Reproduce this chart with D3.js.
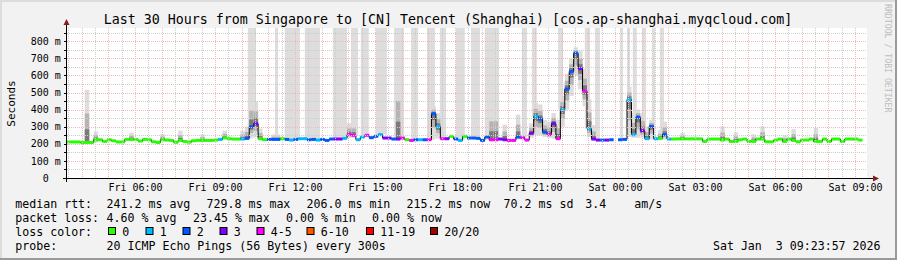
<!DOCTYPE html>
<html>
<head>
<meta charset="utf-8">
<script src="https://cdn.jsdelivr.net/npm/d3@7"></script>
<style>
body { margin: 0; background: #f2f2f2; }
svg text { font-family: "DejaVu Sans Mono", monospace; white-space: pre; }
</style>
</head>
<body>
<svg id="chart" width="897" height="260"></svg>
<script>
// smokeping chart, 30 hours, one value per 10 minute slot

var startTime = "2026-01-02T03:27:00";
var endTime = "2026-01-03T09:27:00";
var stepMinutes = 10;

// median rtt in ms for each slot (null = no data)
var median = [
  211,211,211,208,208,208,224,224,214,224,
  218,211,211,226,226,226,216,226,224,212,
  208,224,222,220,209,220,214,210,218,220,
  220,220,220,222,226,236,230,228,228,228,
  232,300,318,230,224,226,226,226,230,226,
  222,226,230,230,224,226,222,226,220,228,
  228,228,232,254,250,224,240,250,236,244,
  254,234,234,228,228,234,224,220,224,224,
  224,224,376,300,230,230,244,228,220,244,
  234,234,232,220,240,224,224,228,224,220,
  220,240,236,222,262,360,345,268,254,318,
  230,400,520,624,730,640,510,290,228,222,
  222,222,224,null,224,226,459,254,355,276,
  230,302,230,232,254,228,228,229,229,229,
  229,229,229,214,228,228,228,222,228,214,
  214,224,228,214,214,228,228,212,212,222,
  228,214,228,220,212,222,222,228,214,214,
  228,214,228,228,214,228,228,228,222,null
];

// lost pings (of 20) for each slot
var loss = [
  0,0,0,0,0,0,0,0,0,0,
  0,0,0,0,0,0,0,0,0,0,
  0,0,0,0,0,0,0,0,0,0,
  0,0,0,0,1,0,0,0,0,1,
  2,2,3,0,0,2,2,2,0,2,
  1,2,1,1,2,2,1,2,2,2,
  3,3,1,4,4,1,1,4,2,2,
  1,3,3,2,3,4,0,4,2,1,
  2,4,2,1,4,3,0,2,1,0,
  2,2,2,2,2,4,4,3,3,4,
  4,2,4,4,3,1,2,2,4,3,
  4,1,2,2,2,3,4,1,3,3,
  2,3,2,null,2,2,1,1,2,3,
  1,2,1,0,2,1,0,0,0,0,
  0,0,0,0,0,0,0,0,0,0,
  0,0,0,0,0,0,0,0,0,0,
  0,0,0,0,0,0,0,0,0,0,
  0,0,0,0,0,0,0,0,0,null
];

// smoke: slots where the ping spread is visible, with lowest and highest rtt
var smokeSlot = [4,6,14,21,25,30,35,39,40,41,42,43,46,47,63,64,74,82,83,95,96,98,101,
  104,105,106,107,108,109,110,111,112,113,114,115,116,117,118,
  126,127,128,129,130,131,133,134,138,147,150,154,156,161,163,168];
var smokeLow = [205,208,215,215,215,215,225,222,225,232,240,225,220,220,235,235,222,230,230,218,218,215,225,
  235,250,250,240,235,230,222,300,400,480,600,520,420,240,220,
  240,235,235,235,225,225,225,225,222,220,210,210,222,210,215,212];
var smokeHigh = [516,273,265,258,277,255,277,277,300,470,449,290,255,255,320,323,634,420,380,420,420,312,371,
  320,440,430,340,330,380,340,480,610,700,765,745,640,460,310,
  536,380,400,380,300,340,280,330,263,302,267,256,302,250,286,292];

// periods where the smoke runs off the top of the graph
var fullSmoke = [
  ["2026-01-02T10:14","2026-01-02T10:32"],["2026-01-02T11:15","2026-01-02T11:22"],
  ["2026-01-02T11:37","2026-01-02T12:11"],["2026-01-02T12:22","2026-01-02T12:56"],
  ["2026-01-02T13:25","2026-01-02T13:57"],["2026-01-02T14:06","2026-01-02T14:22"],
  ["2026-01-02T14:28","2026-01-02T14:46"],["2026-01-02T15:02","2026-01-02T15:27"],
  ["2026-01-02T15:43","2026-01-02T16:05"],["2026-01-02T16:21","2026-01-02T16:37"],
  ["2026-01-02T16:57","2026-01-02T17:15"],["2026-01-02T17:26","2026-01-02T17:40"],
  ["2026-01-02T18:02","2026-01-02T18:22"],["2026-01-02T18:36","2026-01-02T18:56"],
  ["2026-01-02T19:07","2026-01-02T19:39"],["2026-01-02T20:31","2026-01-02T20:42"],
  ["2026-01-02T20:53","2026-01-02T21:04"],["2026-01-02T21:52","2026-01-02T22:03"],
  ["2026-01-02T22:52","2026-01-02T23:04"],["2026-01-02T23:15","2026-01-02T23:26"],
  ["2026-01-03T00:11","2026-01-03T00:18"],["2026-01-03T00:27","2026-01-03T00:34"],
  ["2026-01-03T00:40","2026-01-03T00:49"],["2026-01-03T01:01","2026-01-03T01:10"],
  ["2026-01-03T01:23","2026-01-03T01:30"],["2026-01-03T01:41","2026-01-03T01:50"]
];

var yTicks = [0,100,200,300,400,500,600,700,800];
var yTickLabels = ["0","100 m","200 m","300 m","400 m","500 m","600 m","700 m","800 m"];
var yMax = 878;

var titleText = "Last 30 Hours from Singapore to [CN] Tencent (Shanghai) [cos.ap-shanghai.myqcloud.com]";
var yTitle = "Seconds";
var lossLabels = ["0","1","2","3","4-5","6-10","11-19","20/20"];
var lossColors = ["#26ff00","#00b8ff","#0059ff","#7e00ff","#ff00ff","#ff5500","#ff0000","#a00000"];
var rttStats = ["241.2 ms avg","729.8 ms max","206.0 ms min","215.2 ms now","70.2 ms sd","3.4","am/s"];
var lossStats = ["4.60 % avg","23.45 % max","0.00 % min","0.00 % now"];
var probeText = "20 ICMP Echo Pings (56 Bytes) every 300s";
var stampText = "Sat Jan  3 09:23:57 2026";


var svg = d3.select("#chart");
var W = 897, H = 260;
var pLeft = 67, pRight = 867, pTop = 28, pBottom = 178;

var t0 = new Date(startTime), t1 = new Date(endTime);
var x = d3.scaleTime().domain([t0, t1]).range([pLeft, pRight]);
var y = d3.scaleLinear().domain([0, yMax]).range([pBottom, pTop]);

function slotTime(i) { return d3.timeMinute.offset(t0, i * stepMinutes); }
function lossBin(n) {
  if (n <= 3) return n;
  if (n <= 5) return 4;
  if (n <= 10) return 5;
  if (n <= 19) return 6;
  return 7;
}

// background and frame
svg.append("rect").attr("width", W).attr("height", H).attr("fill", "#f2f2f2");
svg.append("rect").attr("x", 0).attr("y", 0).attr("width", W).attr("height", 2).attr("fill", "#dcdcdc");
svg.append("rect").attr("x", 0).attr("y", 0).attr("width", 2).attr("height", H).attr("fill", "#dcdcdc");
svg.append("rect").attr("x", 0).attr("y", H - 2).attr("width", W).attr("height", 2).attr("fill", "#9a9a9a");
svg.append("rect").attr("x", W - 2).attr("y", 0).attr("width", 2).attr("height", H).attr("fill", "#9a9a9a");

svg.append("rect").attr("x", pLeft).attr("y", pTop).attr("width", pRight - pLeft).attr("height", pBottom - pTop).attr("fill", "#ffffff");

svg.append("clipPath").attr("id", "clip").append("rect")
  .attr("x", pLeft).attr("y", pTop).attr("width", pRight - pLeft).attr("height", pBottom - pTop);
var plot = svg.append("g").attr("clip-path", "url(#clip)");

// full height smoke columns, from the median up to the top
fullSmoke.forEach(function (p) {
  var a = new Date(p[0]), b = new Date(p[1]);
  var mid = new Date((a.getTime() + b.getTime()) / 2);
  var slot = Math.floor((mid - t0) / 60000 / stepMinutes);
  var m = median[slot] != null ? median[slot] : 225;
  plot.append("rect")
    .attr("x", x(a)).attr("width", Math.max(1, x(b) - x(a)))
    .attr("y", pTop).attr("height", y(m) - pTop)
    .attr("fill", "#dddddd");
});

// smoke around the median
var shades = [[1, "#dddddd"], [0.55, "#b4b4b4"], [0.25, "#7a7a7a"]];
smokeSlot.forEach(function (s, k) {
  var m = median[s];
  var xa = x(slotTime(s)), xb = x(slotTime(s + 1));
  shades.forEach(function (sh) {
    var hi = m + (smokeHigh[k] - m) * sh[0];
    var lo = m - (m - smokeLow[k]) * sh[0];
    plot.append("rect")
      .attr("x", xa).attr("width", xb - xa)
      .attr("y", y(hi)).attr("height", Math.max(0, y(lo) - y(hi)))
      .attr("fill", sh[1]);
  });
});

// grid
var grid = svg.append("g");
d3.range(50, yMax, 50).forEach(function (v) {
  var yy = Math.round(y(v)) + 0.5;
  grid.append("line")
    .attr("x1", pLeft).attr("x2", pRight).attr("y1", yy).attr("y2", yy)
    .attr("stroke", v % 100 === 0 ? "#f2b8b8" : "#cccccc")
    .attr("stroke-dasharray", "1,1");
});
d3.timeMinute.every(30).range(t0, t1).forEach(function (t) {
  var xx = Math.round(x(t)) + 0.5;
  grid.append("line")
    .attr("x1", xx).attr("x2", xx).attr("y1", pTop).attr("y2", pBottom)
    .attr("stroke", t.getMinutes() === 0 ? "#f2b8b8" : "#cccccc")
    .attr("stroke-dasharray", "1,1");
});

// median line: black steps, coloured by loss
var pts = [];
median.forEach(function (m, i) { pts.push([slotTime(i), m]); });
var line = d3.line()
  .defined(function (d) { return d[1] != null; })
  .x(function (d) { return x(d[0]); })
  .y(function (d) { return y(d[1]); })
  .curve(d3.curveStepAfter);
plot.append("path").attr("d", line(pts))
  .attr("fill", "none").attr("stroke", "#000").attr("stroke-width", 1);

median.forEach(function (m, i) {
  if (m == null) return;
  var xa = x(slotTime(i)), xb = x(slotTime(i + 1));
  plot.append("rect")
    .attr("x", xa).attr("width", xb - xa)
    .attr("y", y(m) - 1.5).attr("height", 3)
    .attr("fill", lossColors[lossBin(loss[i])]);
});

// axes
var axis = svg.append("g");
axis.append("line").attr("x1", 63).attr("x2", 874).attr("y1", pBottom + 0.5).attr("y2", pBottom + 0.5)
  .attr("stroke", "#000");
axis.append("line").attr("x1", pLeft - 0.5).attr("x2", pLeft - 0.5).attr("y1", pBottom + 4).attr("y2", 25)
  .attr("stroke", "#000");
axis.append("path").attr("d", "M873,175.5 L879,178.5 L873,181.5 Z").attr("fill", "#8b1a1a");
axis.append("path").attr("d", "M63.5,25 L66.5,19 L69.5,25 Z").attr("fill", "#8b1a1a");

d3.range(50, yMax, 50).forEach(function (v) {
  var yy = Math.round(y(v)) + 0.5;
  axis.append("line").attr("x1", pLeft - 3).attr("x2", pLeft - 1).attr("y1", yy).attr("y2", yy)
    .attr("stroke", "#000");
});

yTicks.forEach(function (v, i) {
  axis.append("text")
    .attr("x", v === 0 ? 48.8 : 60.8)
    .attr("y", y(v) + 3.6)
    .attr("text-anchor", "end")
    .attr("font-size", "10px")
    .attr("fill", "#000")
    .text(yTickLabels[i]);
});

var fmt = d3.timeFormat("%a %H:%M");
d3.timeHour.every(3).range(t0, t1).forEach(function (t) {
  axis.append("text")
    .attr("x", x(t) + 0.5)
    .attr("y", 190.7)
    .attr("text-anchor", "middle")
    .attr("font-size", "10px")
    .text(fmt(t));
});

svg.append("text")
  .attr("transform", "translate(14.5," + ((pTop + pBottom) / 2 + 0.5) + ") rotate(-90)")
  .attr("text-anchor", "middle")
  .attr("font-size", "11px")
  .text(yTitle);

svg.append("text")
  .attr("x", 448).attr("y", 24)
  .attr("text-anchor", "middle")
  .attr("font-size", "13.3px")
  .text(titleText);

svg.append("text")
  .attr("transform", "translate(885,4) rotate(90)")
  .attr("font-size", "8.2px")
  .attr("fill", "#bdbdbd")
  .text("RRDTOOL / TOBI OETIKER");

// legend
var lg = svg.append("g").attr("font-size", "11.6px");
function legendText(tx, ty, s, anchor) {
  lg.append("text").attr("x", tx).attr("y", ty)
    .attr("text-anchor", anchor || "start").text(s);
}
legendText(15.3, 207.5, "median rtt:");
var rttX = [106.6, 206.6, 306.6, 406.6, 503.6, 585.3, 634.3];
rttStats.forEach(function (s, i) { legendText(rttX[i], 207.5, s); });

legendText(15.3, 221.5, "packet loss:");
var lossX = [106.6, 193, 286, 372];
lossStats.forEach(function (s, i) { legendText(lossX[i], 221.5, s); });

legendText(15.3, 235.5, "loss color:");
var boxX = [108, 145.5, 182.5, 219.5, 256.5, 306.5, 366, 430];
lossLabels.forEach(function (s, i) {
  lg.append("rect").attr("x", boxX[i] + 0.5).attr("y", 227.5).attr("width", 7).attr("height", 7)
    .attr("fill", lossColors[i]).attr("stroke", "#000");
  legendText(boxX[i] + 14.3, 235.5, s);
});

legendText(15.3, 249.5, "probe:");
legendText(106.6, 249.5, probeText);
legendText(880.5, 249.5, stampText, "end");
</script>
</body>
</html>
